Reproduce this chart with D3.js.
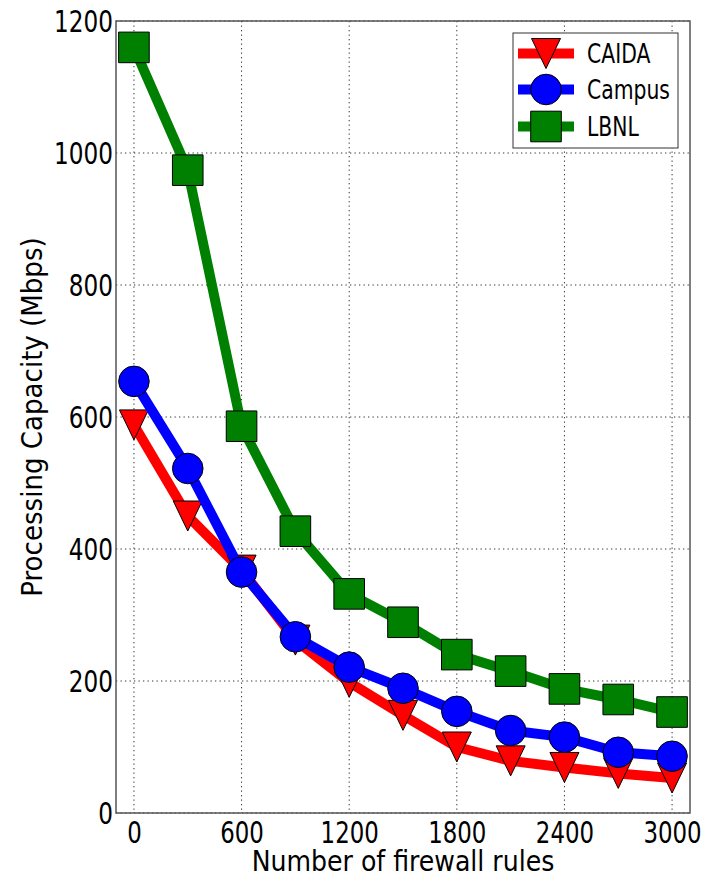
<!DOCTYPE html>
<html>
<head>
<meta charset="utf-8">
<script src="https://cdn.jsdelivr.net/npm/d3@7/dist/d3.min.js"></script>
<style>
  html, body { margin: 0; padding: 0; background: #fff; }
  svg { display: block; }
  text { font-family: "DejaVu Sans Condensed", "DejaVu Sans", sans-serif; font-stretch: condensed; fill: #000; }
</style>
</head>
<body>
<svg id="chart" width="719" height="879"></svg>
<script>
// ---- data ----
const rules = [0, 300, 600, 900, 1200, 1500, 1800, 2100, 2400, 2700, 3000];
const caida  = [588, 450, 368, 262, 198, 148, 100, 79, 69, 60, 53];
const campus = [654, 522, 365, 267, 221, 189, 154, 125, 115, 92, 86];
const lbnl   = [1160, 974, 586, 427, 332, 289, 240, 215, 188, 172, 153];
const xTicks = [0, 600, 1200, 1800, 2400, 3000];
const yTicks = [0, 200, 400, 600, 800, 1000, 1200];
const seriesNames = ["CAIDA", "Campus", "LBNL"];
const xLabel = "Number of firewall rules";
const yLabel = "Processing Capacity (Mbps)";

const series = [
  { name: seriesNames[0], values: caida,  color: "#ff0000", marker: "tri" },
  { name: seriesNames[1], values: campus, color: "#0000ff", marker: "circle" },
  { name: seriesNames[2], values: lbnl,   color: "#008000", marker: "square" }
];

// ---- layout ----
const L = 116, R = 690, T = 21, B = 813;
const svg = d3.select("#chart");
const x = d3.scaleLinear().domain([-100, 3100]).range([L, R]);
const y = d3.scaleLinear().domain([0, 1200]).range([B, T]);

function squash(sel, f) {
  sel.each(function () {
    const w = this.getComputedTextLength();
    d3.select(this).attr("textLength", w * f).attr("lengthAdjust", "spacingAndGlyphs");
  });
}

// grid
const grid = svg.append("g");
grid.selectAll(".gx").data(xTicks).join("line")
  .attr("x1", d => x(d)).attr("x2", d => x(d)).attr("y1", T).attr("y2", B)
  .attr("stroke", "#333").attr("stroke-width", 1).attr("stroke-dasharray", "1.3,3.2");
grid.selectAll(".gy").data(yTicks).join("line")
  .attr("y1", d => y(d)).attr("y2", d => y(d)).attr("x1", L).attr("x2", R)
  .attr("stroke", "#333").attr("stroke-width", 1).attr("stroke-dasharray", "1.3,3.2");

// axes (labels only, using d3 axes)
const xAxis = d3.axisBottom(x).tickValues(xTicks).tickSize(0).tickPadding(0).tickFormat(d3.format("d"));
const yAxis = d3.axisLeft(y).tickValues(yTicks).tickSize(0).tickPadding(0).tickFormat(d3.format("d"));
const gx = svg.append("g").attr("transform", `translate(0,${B})`).call(xAxis);
const gy = svg.append("g").attr("transform", `translate(${L},0)`).call(yAxis);
[gx, gy].forEach(g => { g.select(".domain").remove(); g.selectAll("text").attr("font-size", 31).attr("fill", "#000").style("font-family", null); });
gx.selectAll("text").attr("dy", null).attr("y", 30);
gy.selectAll("text").attr("x", -3).attr("dy", "0.35em");
squash(gx.selectAll("text"), 0.82);
squash(gy.selectAll("text"), 0.83);

// series
const line = d3.line().x((d, i) => x(rules[i])).y(d => y(d));
const MS = 30;
series.forEach(s => {
  const g = svg.append("g");
  g.append("path").datum(s.values).attr("d", line)
    .attr("fill", "none").attr("stroke", s.color).attr("stroke-width", 10).attr("stroke-linejoin", "round");
  drawMarkers(g, s, s.values.map((v, i) => [x(rules[i]), y(v)]));
});

function markerPath(type, cx, cy) {
  const h = MS / 2;
  if (type === "tri") {
    const w = 14.5;
    return `M${cx - w},${cy - h}L${cx + w},${cy - h}L${cx},${cy + h}Z`;
  }
  if (type === "square") {
    const q = 15.3;
    return `M${cx - q},${cy - q}H${cx + q}V${cy + q}H${cx - q}Z`;
  }
  return null;
}
function drawMarkers(g, s, pts) {
  pts.forEach(([cx, cy]) => {
    if (s.marker === "circle") {
      g.append("circle").attr("cx", cx).attr("cy", cy).attr("r", 15.3)
        .attr("fill", s.color).attr("stroke", "#000").attr("stroke-width", 1);
    } else {
      g.append("path").attr("d", markerPath(s.marker, cx, cy))
        .attr("fill", s.color).attr("stroke", "#000").attr("stroke-width", 1);
    }
  });
}

// frame
svg.append("rect").attr("x", L).attr("y", T).attr("width", R - L).attr("height", B - T)
  .attr("fill", "none").attr("stroke", "#555").attr("stroke-width", 1.5);

// axis labels
const xl = svg.append("text").attr("x", (L + R) / 2).attr("y", 871).attr("text-anchor", "middle")
  .attr("font-size", 28).text(xLabel);
const yl = svg.append("text").attr("transform", `translate(42,${(T + B) / 2}) rotate(-90)`)
  .attr("text-anchor", "middle").attr("font-size", 29).text(yLabel);

// legend
const lg = svg.append("g");
lg.append("rect").attr("x", 513).attr("y", 33).attr("width", 165).attr("height", 115)
  .attr("fill", "#fff").attr("stroke", "#333").attr("stroke-width", 1);
const rowY = [53.5, 89.5, 126.5];
series.forEach((s, i) => {
  const yy = rowY[i];
  lg.append("line").attr("x1", 518).attr("x2", 574).attr("y1", yy).attr("y2", yy)
    .attr("stroke", s.color).attr("stroke-width", 10);
  drawMarkers(lg, s, [[546, yy]]);
  const t = lg.append("text").attr("x", 587).attr("y", yy + 9.5).attr("font-size", 26).text(s.name);
  squash(t, 0.87);
});
</script>
</body>
</html>
